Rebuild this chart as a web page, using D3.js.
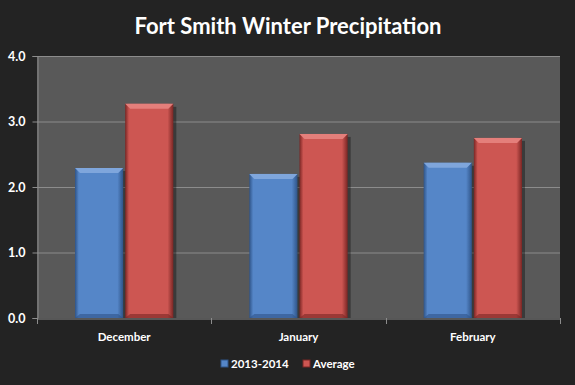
<!DOCTYPE html>
<html><head><meta charset="utf-8">
<script src="https://cdn.jsdelivr.net/npm/d3@7"></script>
<style>
html,body{margin:0;padding:0;background:#232323;}
text{font-family:Lato,"Open Sans",sans-serif;}
</style></head>
<body>
<svg id="chart" width="575" height="385"></svg>
<script>
const categories = ["December", "January", "February"];
const seriesNames = ["2013-2014", "Average"];
const values2013 = [2.29, 2.20, 2.37];
const valuesAvg = [3.27, 2.81, 2.75];
const yTicks = [0, 1, 2, 3, 4];
const colors = ["#5586c8", "#cd5652"];
const darkColors = ["#2f5488", "#7a2624"];
const lightColors = ["#7fa6dc", "#e47f7b"];

const svg = d3.select("#chart");
svg.append("rect").attr("width",575).attr("height",385).attr("fill","#232323");
const m = {left:37, right:560, top:56, bottom:318};
const x0 = d3.scaleBand().domain(categories).range([m.left, m.right]).paddingInner(0).paddingOuter(0);
const x1 = d3.scaleBand().domain(seriesNames).range([38, x0.bandwidth()-38]).paddingInner(0.04);
const y = d3.scaleLinear().domain([0,4]).range([m.bottom, m.top]);

const defs = svg.append("defs");
seriesNames.forEach((s,i)=>{
  const g = defs.append("linearGradient").attr("id","g"+i).attr("x1","0").attr("x2","1").attr("y1","0").attr("y2","0");
  g.append("stop").attr("offset","0").attr("stop-color",darkColors[i]);
  g.append("stop").attr("offset","0.08").attr("stop-color",colors[i]);
  g.append("stop").attr("offset","0.88").attr("stop-color",colors[i]);
  g.append("stop").attr("offset","1").attr("stop-color",darkColors[i]);
});

// plot area
svg.append("rect").attr("x",m.left).attr("y",m.top).attr("width",m.right-m.left).attr("height",m.bottom-m.top).attr("fill","#595959");

// gridlines
svg.append("g").selectAll("line").data(yTicks.filter(d=>d>0)).join("line")
  .attr("x1",m.left).attr("x2",m.right).attr("y1",d=>y(d)+0.5).attr("y2",d=>y(d)+0.5)
  .attr("stroke","#8c8c8c").attr("stroke-width",1);

// y axis
const yAxis = svg.append("g").attr("transform",`translate(${m.left+0.5},0)`)
  .call(d3.axisLeft(y).tickValues(yTicks).tickFormat(d3.format(".1f")).tickSize(5));
yAxis.select(".domain").attr("stroke","#8c8c8c");
yAxis.selectAll(".tick line").attr("stroke","#8c8c8c");
yAxis.selectAll(".tick text").attr("fill","#ffffff").attr("font-size","12.5px").attr("font-weight","bold").attr("x",-12);

// x axis
const xAxis = svg.append("g").attr("transform",`translate(0,${m.bottom+0.5})`)
  .call(d3.axisBottom(x0).tickSize(0).tickPadding(14));
xAxis.select(".domain").attr("stroke","#8c8c8c");
xAxis.selectAll(".tick text").attr("fill","#ffffff").attr("font-size","11.5px").attr("font-weight","bold");
const bounds = [m.left].concat(categories.map(c=>x0(c)+x0.bandwidth()));
svg.append("g").selectAll("line").data(bounds).join("line")
  .attr("x1",d=>Math.round(d)+0.5).attr("x2",d=>Math.round(d)+0.5).attr("y1",m.bottom).attr("y2",m.bottom+6)
  .attr("stroke","#8c8c8c");

// bars
const data = [];
categories.forEach((c,ci)=>{
  data.push({c, s:0, v:values2013[ci]});
  data.push({c, s:1, v:valuesAvg[ci]});
});
const bars = svg.append("g").selectAll("g").data(data).join("g")
  .attr("transform",d=>`translate(${x0(d.c)+x1(seriesNames[d.s])},0)`);
// shadow
bars.append("rect").attr("x",3).attr("y",d=>y(d.v)+3).attr("width",x1.bandwidth()).attr("height",d=>y(0)-y(d.v)-3)
  .attr("fill","#000").attr("opacity",0.35);
bars.append("rect").attr("x",0).attr("y",d=>y(d.v)).attr("width",x1.bandwidth()).attr("height",d=>y(0)-y(d.v))
  .attr("fill",d=>`url(#g${d.s})`);
// top bevel
bars.append("path").attr("d",d=>{
  const w=x1.bandwidth(), t=y(d.v);
  return `M0,${t} L${w},${t} L${w-5},${t+5} L5,${t+5} Z`;
}).attr("fill",d=>lightColors[d.s]);
// bottom bevel
bars.append("path").attr("d",d=>{
  const w=x1.bandwidth(), b=y(0);
  return `M0,${b} L${w},${b} L${w-5},${b-4} L5,${b-4} Z`;
}).attr("fill",d=>darkColors[d.s]).attr("opacity",0.6);

// title
svg.append("text").attr("x",288).attr("y",34).attr("text-anchor","middle")
  .attr("fill","#ffffff").attr("font-size","22px").attr("font-weight","bold").text("Fort Smith Winter Precipitation");

// legend
const legend = svg.append("g").attr("transform","translate(221,368)");
const items = [{n:seriesNames[0], i:0, x:0},{n:seriesNames[1], i:1, x:82}];
items.forEach(it=>{
  const g = legend.append("g").attr("transform",`translate(${it.x},0)`);
  g.append("rect").attr("x",0).attr("y",-8).attr("width",7).attr("height",7).attr("fill",colors[it.i]).attr("stroke",darkColors[it.i]).attr("stroke-width",1);
  g.append("text").attr("x",10).attr("y",0).attr("fill","#ffffff").attr("font-size","11.5px").attr("font-weight","bold").text(it.n);
});
</script>
</body></html>
